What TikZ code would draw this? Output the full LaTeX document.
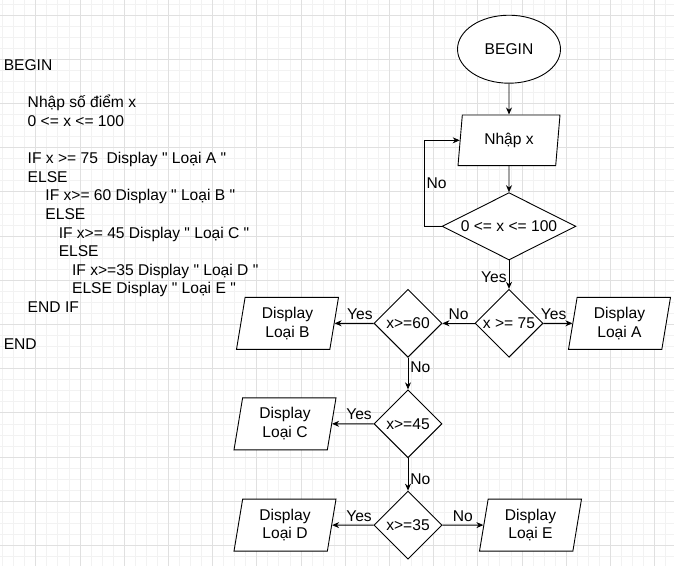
\documentclass[tikz,border=0pt]{standalone}
\usepackage{fontspec}
\setmainfont{Liberation Sans}[Ligatures=TeXOff]
\usetikzlibrary{shapes.geometric, arrows.meta, positioning}
\definecolor{gridminor}{HTML}{F2F2F2}
\definecolor{gridmajor}{HTML}{E0E0E0}

\begin{document}
\begin{tikzpicture}[x=1pt, y=-1pt, line width=0.9pt, on grid, >={Stealth[length=7pt,width=6pt]},
    font=\fontsize{15.6}{18.6}\selectfont,
    startstop/.style={ellipse, draw, fill=white, minimum width=103pt, minimum height=68pt, inner sep=0pt},
    io/.style={trapezium, trapezium left angle=75, trapezium right angle=105, trapezium stretches body,
        draw, fill=white, minimum width=102pt, minimum height=52pt, inner sep=0pt, align=center},
    decision/.style={diamond, draw, fill=white, minimum width=68pt, minimum height=68pt, inner sep=0pt},
    lbl/.style={inner sep=2pt},
    lblup/.style={above, inner sep=3.5pt}]
    \useasboundingbox (0,0) rectangle (674,568);
    \begin{scope}[line width=0.7pt]
        \clip (0,0) rectangle (674,566);
        \foreach \i in {0,...,60}
            \draw[gridminor] (2.55+11.05*\i,0) -- (2.55+11.05*\i,566);
        \foreach \j in {0,...,51}
            \draw[gridminor] (0,3.95+11.05*\j) -- (674,3.95+11.05*\j);
        \foreach \i in {0,...,15}
            \draw[gridmajor] (35.7+44.2*\i,0) -- (35.7+44.2*\i,566);
        \foreach \j in {0,...,12}
            \draw[gridmajor] (0,15+44.2*\j) -- (674,15+44.2*\j);
    \end{scope}

    \node[anchor=north west, inner sep=0pt, align=left] (pseudo) at (3.3,59.4) {%
        BEGIN\\[18.6pt]
        \hspace*{24pt}Nhập số điểm x\\
        \hspace*{24pt}0 <= x <= 100\\[18.6pt]
        \hspace*{24pt}IF x >= 75\ \ Display " Loại A "\\
        \hspace*{24pt}ELSE\\
        \hspace*{41.7pt}IF x>= 60 Display " Loại B "\\
        \hspace*{41.7pt}ELSE\\
        \hspace*{55pt}IF x>= 45 Display " Loại C "\\
        \hspace*{55pt}ELSE\\
        \hspace*{68.4pt}IF x>=35 Display " Loại D "\\
        \hspace*{68.4pt}ELSE Display " Loại E "\\
        \hspace*{24pt}END IF\\[18.6pt]
        END};

    \node[startstop] (begin) at (509,49.2) {BEGIN};
    \node[io, trapezium left angle=73.5, trapezium right angle=106.5, minimum height=50.7pt]
        (nhap) [below=91.1pt of begin] {Nhập x};
    \node[decision, aspect=2, minimum width=133.7pt, minimum height=67.3pt] (range) [below=86pt of nhap] {0 <= x <= 100};
    \node[decision] (x75) [below=97pt of range] {x >= 75};
    \node[io] (dispA) [right=110.5pt of x75] {Display\\Loại A};
    \node[decision] (x60) [left=101pt of x75] {x>=60};
    \node[io] (dispB) [left=120.5pt of x60] {Display\\Loại B};
    \node[decision] (x45) [below=100.5pt of x60] {x>=45};
    \node[io] (dispC) [left=123pt of x45] {Display\\Loại C};
    \node[decision] (x35) [below=101.3pt of x45] {x>=35};
    \node[io] (dispD) [left=123pt of x35] {Display\\Loại D};
    \node[io] (dispE) [right=122.5pt of x35] {Display\\Loại E};

    \path[->]
        (begin) edge (nhap)
        (nhap) edge (range)
        (range) edge node[lbl, left, pos=0.6] {Yes} (x75)
        (x75) edge node[lblup, pos=0.35] {Yes} (dispA)
              edge node[lblup] {No} (x60)
        (x60) edge node[lblup, pos=0.35] {Yes} (dispB)
              edge node[lbl, right, pos=0.3] {No} (x45)
        (x45) edge node[lblup, pos=0.35] {Yes} (dispC)
              edge node[lbl, right, pos=0.65] {No} (x35)
        (x35) edge node[lblup, pos=0.35] {Yes} (dispD)
              edge node[lblup] {No} (dispE);
    \draw[->] (range.west) -- ++(-17.6,0) |- node[lbl, right, pos=0.25] {No} (nhap.west);
\end{tikzpicture}
\end{document}
